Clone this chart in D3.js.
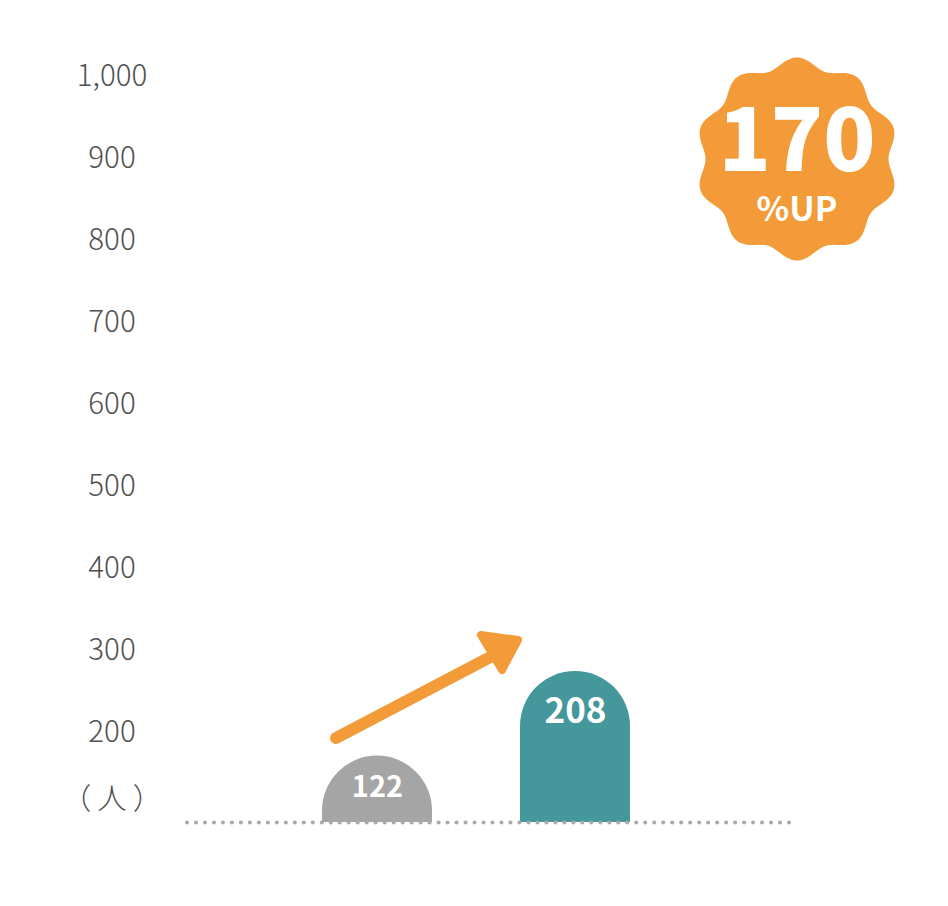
<!DOCTYPE html>
<html lang="ja">
<head>
    <meta charset="UTF-8">
    <title>人数 170%UP</title>
    <script src="https://d3js.org/d3.v7.min.js"></script>
    <style>
        body { margin: 0; background: #fff; }
        svg { display: block; }
        text { font-family: "Noto Sans CJK JP", "Noto Sans", sans-serif; }
        .tick-label { font-size: 29.5px; font-weight: 300; fill: #505050; }
        .bar-label { font-weight: 700; fill: #fff; }
    </style>
</head>
<body>
    <svg width="948" height="906"></svg>

    <script>
        // data
        const categories = ["before", "after"];
        const values = [122, 208];
        const barColors = ["#a5a5a5", "#44979b"];
        const tickValues = [200, 300, 400, 500, 600, 700, 800, 900, 1000];
        const unitLabel = "（人）";
        const badgeValue = "170";
        const badgeUnit = "%UP";

        const svg = d3.select("svg");
        const baseline = 822;

        // axis scale (tick labels)
        const y = d3.scaleLinear().domain([200, 1000]).range([732, 76]);
        // bar height scale
        const barH = d3.scaleLinear().domain([54.4, 208]).range([0, 151]);
        const x = d3.scaleBand().domain(categories).range([322, 630]).paddingInner(88 / 198);
        // label size grows with the value
        const labelSize = d3.scaleLinear().domain([122, 208]).range([29, 35]);

        // y tick labels
        svg.selectAll(".tick-label")
            .data(tickValues)
            .enter().append("text")
            .attr("class", "tick-label")
            .attr("x", 112)
            .attr("y", d => y(d))
            .attr("dy", "0.35em")
            .attr("text-anchor", "middle")
            .text(d => d3.format(",")(d));

        svg.append("text")
            .attr("class", "tick-label")
            .attr("x", 112 + 3)
            .attr("y", y(200) + (y(200) - y(300)) * 0.81)
            .attr("dy", "0.35em")
            .attr("text-anchor", "middle")
            .attr("letter-spacing", "6px")
            .attr("font-size", 31)
            .text(unitLabel);

        // bars with rounded tops
        function barPath(d, i) {
            const w = x.bandwidth(), x0 = x(categories[i]), r = w / 2;
            const h = barH(d), top = baseline - h;
            return `M${x0},${baseline} L${x0},${top + r} A${r},${r} 0 0 1 ${x0 + w},${top + r} L${x0 + w},${baseline} Z`;
        }

        svg.selectAll(".bar")
            .data(values)
            .enter().append("path")
            .attr("class", "bar")
            .attr("fill", (d, i) => barColors[i])
            .attr("d", barPath);

        svg.selectAll(".bar-label")
            .data(values)
            .enter().append("text")
            .attr("class", "bar-label")
            .attr("x", (d, i) => x(categories[i]) + x.bandwidth() / 2 + 0.5)
            .attr("y", d => baseline - barH(d) + 1.75 * labelSize(d) - 9.5)
            .attr("font-size", d => labelSize(d))
            .attr("text-anchor", "middle")
            .text(d => d);

        // dotted baseline
        const dots = d3.range(68).map(i => 187 + i * 602 / 67);
        svg.selectAll(".dot")
            .data(dots)
            .enter().append("circle")
            .attr("class", "dot")
            .attr("cx", d => d)
            .attr("cy", baseline + 0.5)
            .attr("r", 2)
            .attr("fill", "#a9a9a9");

        // arrow
        const orange = "#f29b38";
        svg.append("line")
            .attr("x1", 336).attr("y1", 738)
            .attr("x2", 500).attr("y2", 652)
            .attr("stroke", orange)
            .attr("stroke-width", 12)
            .attr("stroke-linecap", "round");
        svg.append("path")
            .attr("d", "M481,635 L518,640 L502,670 Z")
            .attr("fill", orange)
            .attr("stroke", orange)
            .attr("stroke-width", 8)
            .attr("stroke-linejoin", "round");

        // badge
        const cx = 797, cy = 159;
        const badgePts = d3.range(0, 361).map(k => {
            const t = k / 360 * 2 * Math.PI;
            const r = 96.5 + 5 * Math.cos(10 * t);
            return [cx + r * Math.sin(t), cy - r * Math.cos(t)];
        });
        svg.append("path")
            .attr("d", d3.line().curve(d3.curveLinearClosed)(badgePts))
            .attr("fill", orange);

        svg.append("text")
            .attr("x", cx).attr("y", 171)
            .attr("text-anchor", "middle")
            .attr("font-size", 86).attr("font-weight", 900)
            .attr("fill", "#fff")
            .text(badgeValue);
        svg.append("text")
            .attr("x", cx).attr("y", 221)
            .attr("text-anchor", "middle")
            .attr("font-size", 34).attr("font-weight", 700)
            .attr("fill", "#fff")
            .text(badgeUnit);
    </script>
</body>
</html>
